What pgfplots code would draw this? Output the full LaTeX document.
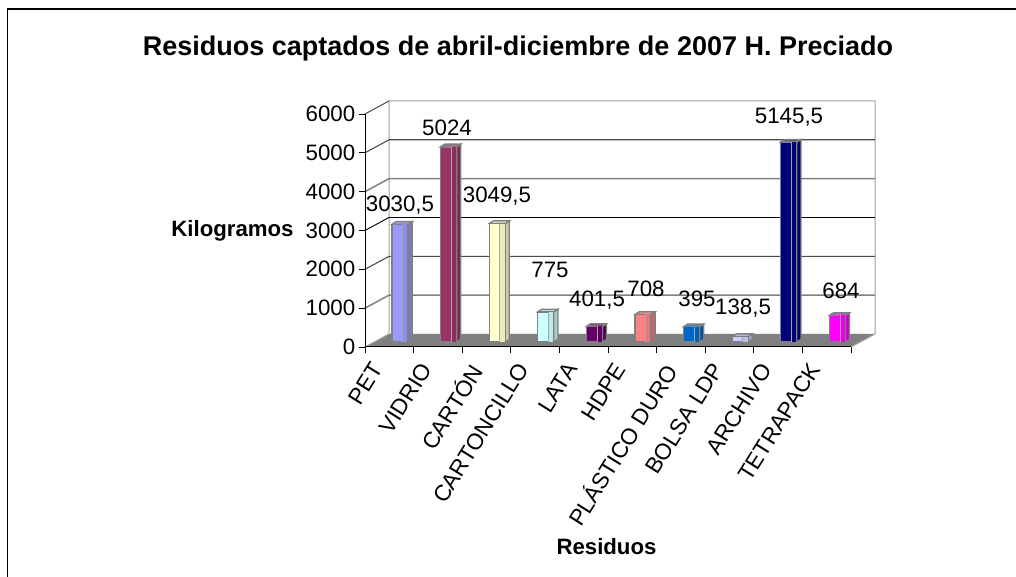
\documentclass[border=0pt]{standalone}
\usepackage{pgfplots}
\pgfplotsset{compat=1.18}
\usepackage{fontspec}
\setmainfont{Liberation Sans}
\definecolor{wallc}{HTML}{A0A0A0}
\definecolor{floorc}{HTML}{808080}
\definecolor{af}{HTML}{9999FF}\definecolor{as}{HTML}{7A7ACC}
\definecolor{bf}{HTML}{993366}\definecolor{bs}{HTML}{7A2952}
\definecolor{cf}{HTML}{FFFFCC}\definecolor{cs}{HTML}{CCCCA3}
\definecolor{df}{HTML}{CCFFFF}\definecolor{ds}{HTML}{A3CCCC}
\definecolor{ef}{HTML}{660066}\definecolor{es}{HTML}{520052}
\definecolor{ff}{HTML}{FF8080}\definecolor{fs}{HTML}{CC6666}
\definecolor{gf}{HTML}{0066CC}\definecolor{gs}{HTML}{0052A3}
\definecolor{hf}{HTML}{CCCCFF}\definecolor{hs}{HTML}{A3A3CC}
\definecolor{if}{HTML}{000080}\definecolor{is}{HTML}{000066}
\definecolor{jf}{HTML}{FF00FF}\definecolor{js}{HTML}{CC00CC}
% one 3-D bar: centre, value, front colour, side colour
\newcommand{\tdbar}[4]{%
  \pgfmathsetmacro{\xa}{#1-0.165}\pgfmathsetmacro{\xb}{#1+0.165}%
  \pgfmathsetmacro{\xc}{#1+0.25}\pgfmathsetmacro{\xd}{#1-0.08}%
  \pgfmathsetmacro{\xe}{#1+0.05}%
  \pgfmathsetmacro{\ya}{#2+70}%
  \addplot[fill=#4,draw=floorc,line width=1.3pt] coordinates {(\xb,0) (\xc,70) (\xc,\ya) (\xb,#2)} --cycle;
  \addplot[fill=#4!70!white,draw=floorc,line width=1.3pt] coordinates {(\xa,#2) (\xb,#2) (\xc,\ya) (\xd,\ya)} --cycle;
  \addplot[ybar,bar width=16pt,bar shift=0pt,fill=#3,draw=floorc,line width=1.3pt] coordinates {(#1,#2)};
  \addplot[fill=#3!60!#4,draw=none] coordinates {(\xe,0) (\xb,0) (\xb,#2) (\xe,#2)} --cycle;
  \addplot[draw=floorc!70!white,line width=0.4pt] coordinates {(\xe,0) (\xe,#2)};
  \addplot[draw=floorc,line width=1.3pt] coordinates {(\xb,0) (\xb,#2)};
}
\begin{document}
\begin{tikzpicture}[x=1pt,y=1pt]
\path[use as bounding box] (0,0) rectangle (1016,577);
\draw[black,line width=1.2pt] (7.5,0) -- (7.5,568) -- (1016,568);
\begin{axis}[
  at={(365pt,230pt)},anchor=south west,
  name=main,
  scale only axis,width=510pt,height=247pt,
  xmin=-0.72,xmax=9.774,ymin=-129,ymax=6231,
  axis line style={draw=none},
  clip=false,
  tick style={black,line width=0.9pt},
  xtick pos=bottom,ytick pos=left,
  xtick={-0.72,0.28,1.28,2.28,3.28,4.28,5.28,6.28,7.28,8.28,9.28},
  xticklabels={PET,VIDRIO,CARTÓN,CARTONCILLO,LATA,HDPE,PLÁSTICO DURO,BOLSA LDP,ARCHIVO,TETRAPACK,{}},
  xticklabel style={xshift=5.7pt,yshift=-7.2pt,rotate=58,anchor=north east,font=\fontsize{22.6}{24}\selectfont,inner sep=0pt},
  tick align=outside,
  ytick={-129,871,1871,2871,3871,4871,5871},
  yticklabels={0,1000,2000,3000,4000,5000,6000},
  major tick length=6.5pt,
  yticklabel style={font=\fontsize{22.3}{24}\selectfont,/pgf/number format/assume math mode=true,inner sep=0pt,xshift=-3pt},
  axis on top=false,
]
% walls and floor
\addplot[fill=floorc,draw=none] coordinates {(-0.72,-129) (9.28,-129) (9.774,206) (-0.226,206)} --cycle;
\addplot[draw=wallc,line width=1pt] coordinates {(-0.72,-129) (-0.226,206) (-0.226,6206) (9.774,6206) (9.774,206) (9.28,-129)};
% grid lines
\addplot[draw=floorc,line width=1.5pt] coordinates {(-0.72,871) (-0.226,1206) (9.774,1206)};
\addplot[draw=black!70,line width=1.1pt] coordinates {(-0.72,1871) (-0.226,2206) (9.774,2206)};
\addplot[draw=black,line width=0.9pt] coordinates {(-0.72,2871) (-0.226,3206) (9.774,3206)};
\addplot[draw=floorc,line width=1.5pt] coordinates {(-0.72,3871) (-0.226,4206) (9.774,4206)};
\addplot[draw=black!70,line width=1.1pt] coordinates {(-0.72,4871) (-0.226,5206) (9.774,5206)};
\addplot[draw=black!70,line width=1pt] coordinates {(-0.72,5871) (-0.226,6206)};
% bars
\tdbar{0}{3030.5}{af}{as}
\tdbar{1}{5024}{bf}{bs}
\tdbar{2}{3049.5}{cf}{cs}
\tdbar{3}{775}{df}{ds}
\tdbar{4}{401.5}{ef}{es}
\tdbar{5}{708}{ff}{fs}
\tdbar{6}{395}{gf}{gs}
\tdbar{7}{138.5}{hf}{hs}
\tdbar{8}{5145.5}{if}{is}
\tdbar{9}{684}{jf}{js}
% front axes
\addplot[draw=black,line width=1pt] coordinates {(-0.72,5871) (-0.72,-129) (9.28,-129)};
\end{axis}
\begin{scope}[every node/.style={font=\fontsize{22.3}{24}\selectfont,inner sep=0pt}]
\node at (400,372) {3030,5};
\node at (447,449) {5024};
\node at (497,381) {3049,5};
\node at (550,307) {775};
\node at (597,277) {401,5};
\node at (646,288) {708};
\node at (697,278) {395};
\node at (743,269) {138,5};
\node at (789,460) {5145,5};
\node at (841,286) {684};
\end{scope}
\node[font=\fontsize{27}{30}\selectfont\bfseries,inner sep=0pt] at (518,528) {Residuos captados de abril-diciembre de 2007 H. Preciado};
\node[font=\fontsize{22.2}{24}\selectfont\bfseries,inner sep=0pt] at (232.5,346) {Kilogramos};
\node[font=\fontsize{22.2}{24}\selectfont\bfseries,inner sep=0pt] at (606.5,30) {Residuos};
\end{tikzpicture}
\end{document}
